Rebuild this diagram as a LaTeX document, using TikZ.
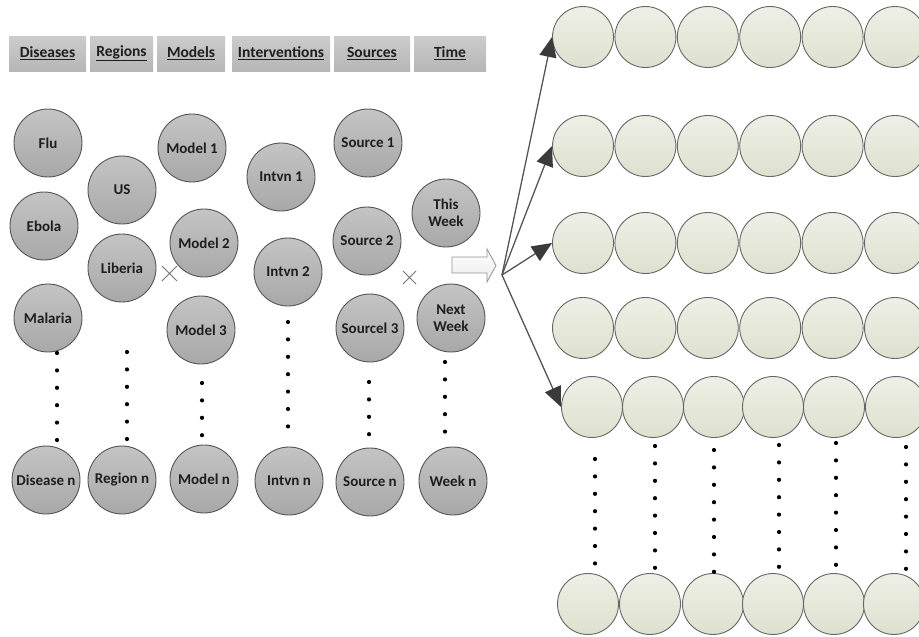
\documentclass[tikz,border=0pt]{standalone}
\usepackage{fontspec}
\setmainfont{Carlito}
\usetikzlibrary{arrows.meta}
\definecolor{hdrtop}{HTML}{CCCCCC}
\definecolor{hdrbot}{HTML}{B6B6B6}
\definecolor{gtop}{HTML}{C4C4C4}
\definecolor{gbot}{HTML}{A8A8A8}
\definecolor{gline}{HTML}{555555}
\definecolor{ltop}{HTML}{EEF0E6}
\definecolor{lbot}{HTML}{DEE0CF}
\definecolor{lline}{HTML}{666666}
\definecolor{ink}{HTML}{1E1E1E}
\definecolor{fanline}{HTML}{555555}
\definecolor{fanhead}{HTML}{3A3A3A}
\begin{document}
\begin{tikzpicture}[x=1pt,y=-1pt,
  hdr/.style={rectangle, top color=hdrtop, bottom color=hdrbot, draw=none,
    minimum height=35pt, inner sep=0pt, text=ink,
    font=\fontsize{15.5}{17}\selectfont\bfseries},
  gball/.style={circle, top color=gtop, bottom color=gbot, draw=gline,
    line width=0.9pt, minimum size=68pt, inner sep=0pt, text=ink, align=center,
    font=\fontsize{15}{16.5}\selectfont\bfseries},
  lball/.style={circle, top color=ltop, bottom color=lbot, draw=lline,
    line width=0.9pt, minimum size=61pt, inner sep=0pt},
  fan/.style={draw=fanline, line width=1.3pt,
    -{Triangle[length=20pt,width=17pt,fill=fanhead,color=fanhead]}},
  cross/.style={draw=gray!90!black, line width=0.8pt},
  blockarrow/.style={draw=gray!85, line width=0.8pt, top color=white, bottom color=gray!15}
]
\useasboundingbox (0,0) rectangle (919,637);

% category header bars
\node[hdr, minimum width=77pt] (hDis) at (47.5,53.5) {\underline{Diseases}};
\node[hdr, minimum width=63pt] (hReg) at (121.5,53.5) {\underline{Regions}};
\node[hdr, minimum width=68pt] (hMod) at (191,53.5) {\underline{Models}};
\node[hdr, minimum width=98pt] (hInt) at (281,53.5) {\underline{Interventions}};
\node[hdr, minimum width=76pt] (hSrc) at (372,53.5) {\underline{Sources}};
\node[hdr, minimum width=72pt] (hTim) at (450,53.5) {\underline{Time}};

% diseases
\node[gball] (flu) at (48,143) {Flu};
\node[gball] (ebola) at (44,226) {Ebola};
\node[gball] (malaria) at (48,318) {Malaria};
\node[gball] (disn) at (46,480) {Disease n};
% regions
\node[gball] (us) at (122,190) {US};
\node[gball] (liberia) at (122,268) {Liberia};
\node[gball] (regn) at (122,480) {Region n};
% models
\node[gball] (mod1) at (192,148) {Model 1};
\node[gball] (mod2) at (204,243) {Model 2};
\node[gball] (mod3) at (201,330) {Model 3};
\node[gball] (modn) at (204,479) {Model n};
% interventions
\node[gball] (int1) at (281,177) {Intvn 1};
\node[gball] (int2) at (288,272) {Intvn 2};
\node[gball] (intn) at (289,481) {Intvn n};
% sources
\node[gball] (src1) at (368,143) {Source 1};
\node[gball] (src2) at (367,241) {Source 2};
\node[gball] (src3) at (370,328) {Sourcel 3};
\node[gball] (srcn) at (370,482) {Source n};
% time
\node[gball] (wk1) at (446,213) {This\\Week};
\node[gball] (wk2) at (451,318) {Next\\Week};
\node[gball] (wkn) at (453,481) {Week n};

% ellipsis dots in the left columns
\foreach \x/\y/\n in {57/353/5, 127/352/5, 202/383/3, 288/322/6, 369/382/3, 445/362/4}
  \foreach \k in {0,...,\n}
    \fill[black] (\x,\y+17.4*\k) circle (2.1pt);

% product signs
\draw[cross] (162,266) -- (177,281) (162,281) -- (177,266);
\draw[cross] (403,271) -- (416,284) (403,284) -- (416,271);

% hollow block arrow
\draw[blockarrow] (452,257) -- (487,257) -- (487,249) -- (496,265.5)
  -- (487,282) -- (487,273) -- (452,273) -- cycle;

% grid of combination circles
\foreach \r/\y in {1/37, 2/146, 3/243, 4/328}
  \foreach \c in {1,...,6}
    \node[lball] (r\r c\c) at ({583+62.4*(\c-1)},\y) {};
\foreach \c/\x in {1/592, 2/653, 3/714, 4/773, 5/834, 6/896}
  \node[lball] (r5c\c) at (\x,407) {};
\foreach \c/\x in {1/588, 2/650, 3/713, 4/773, 5/834, 6/894}
  \node[lball] (r6c\c) at (\x,604) {};

% ellipsis dots in the grid
\foreach \x/\y/\n in {595/459/6, 655/446/7, 714/450/7, 779/445/7, 836/443/7, 906/447/7}
  \foreach \k in {0,...,\n}
    \fill[black] (\x,\y+17.4*\k) circle (2.1pt);

% fan of arrows
\coordinate (fanorg) at (502,275);
\draw[fan] (fanorg) -- (r1c1.west);
\draw[fan] (fanorg) -- (r2c1.west);
\draw[fan] (fanorg) -- (r3c1.west);
\draw[fan] (fanorg) -- (r5c1.west);
\end{tikzpicture}
\end{document}
